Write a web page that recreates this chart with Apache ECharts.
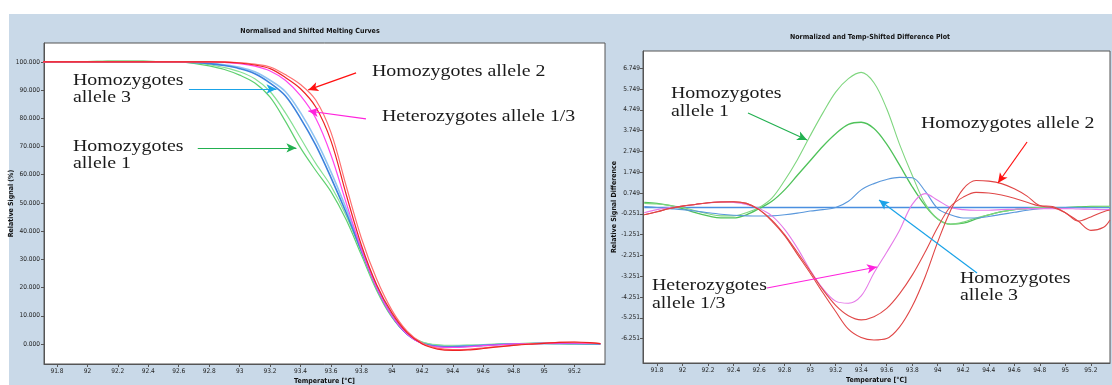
<!DOCTYPE html>
<html><head><meta charset="utf-8">
<script src="https://cdn.jsdelivr.net/npm/echarts@6/dist/echarts.min.js"></script>
<style>html,body{margin:0;padding:0;background:#fff;}#c{width:1112px;height:385px;}</style>
</head><body><div id="c"></div>
<script>
// ---- Left chart: Normalised and Shifted Melting Curves ----
const tempMelt = [91.7,91.8,91.9,92.0,92.1,92.2,92.3,92.4,92.5,92.6,92.7,92.8,92.9,93.0,93.1,93.2,93.3,93.4,93.5,93.6,93.7,93.8,93.9,94.0,94.1,94.2,94.3,94.4,94.5,94.6,94.7,94.8,94.9,95.0,95.1,95.2,95.3,95.37];
const meltRedA = [100,100,100,100,100,100,100,100,100,100,100,100,99.9,99.6,98.9,97.6,94.5,90.5,84,72,53,35,21,11,4,0,-1.8,-2.3,-2.1,-1.6,-1.0,-0.5,-0.1,0.2,0.6,0.7,0.5,0.1];
const meltRedB = [100,100,100,100,100,100,100,100,100,100,100,100,100,99.7,99.2,98.2,95.5,92,86.5,75,56,37.5,23,12,4.5,0.3,-1.5,-2.0,-1.9,-1.4,-0.9,-0.4,0,0.3,0.6,0.6,0.4,0.1];
const meltMagenta = [100,100,100,100,100,100,100,100,100,100,100,100,99.8,99.4,98.5,96.8,93.5,88,80,67,50,33.5,20,10,3.5,0,-1,-1.2,-1.0,-0.6,-0.3,0,0.1,0.2,0.3,0.3,0.2,0.1];
const meltBlue = [100,100,100,100,100,100,100,100,100,100,99.8,99.4,98.7,97.6,95.8,92.5,88,80,70.5,59,46.5,33,20,10,3.5,0.3,-0.8,-1.0,-0.8,-0.5,-0.2,0,0.1,0.2,0.2,0.2,0.1,0];
const meltBlueLight = [100,100,100,100,100,100,100,100,100,100,99.9,99.6,99.0,98.1,96.5,93.5,89.5,82,72.5,61,48,34,20.5,10.2,3.6,0.3,-0.7,-0.9,-0.7,-0.4,-0.2,0,0.1,0.2,0.2,0.1,0.1,0];
const meltGreenA = [100,100,100.1,100.1,100.2,100.3,100.3,100.2,100.1,100,99.5,98.6,97.3,95.3,92.5,87.5,79,69.5,61.5,54,44,31.5,19,9.5,3.5,0.6,-0.4,-0.6,-0.5,-0.3,-0.1,0.1,0.2,0.2,0.1,-0.1,-0.1,0];
const meltGreenB = [100,100,100.1,100.1,100.2,100.3,100.3,100.2,100.1,100,99.7,99.0,98.0,96.5,94,89.5,82,73,64,56,45.5,32.5,19.5,9.8,3.6,0.7,-0.3,-0.5,-0.4,-0.2,0,0.1,0.2,0.2,0.1,0,-0.1,0];
const meltXTicks = [91.8,92,92.2,92.4,92.6,92.8,93,93.2,93.4,93.6,93.8,94,94.2,94.4,94.6,94.8,95,95.2];
const meltYTicks = [0,10,20,30,40,50,60,70,80,90,100];

// ---- Right chart: Normalized and Temp-Shifted Difference Plot ----
const tempDiff = [91.7,91.8,91.9,92.0,92.1,92.2,92.3,92.4,92.5,92.6,92.7,92.8,92.9,93.0,93.1,93.2,93.3,93.4,93.5,93.6,93.7,93.8,93.9,94.0,94.1,94.2,94.3,94.4,94.5,94.6,94.7,94.8,94.9,95.0,95.1,95.2,95.3,95.35];
const diffGreenA = [0.25,0.22,0.15,0.05,-0.1,-0.25,-0.35,-0.35,-0.2,0.05,0.5,1.35,2.35,3.5,4.6,5.6,6.25,6.55,6.05,4.8,3.1,1.6,0.25,-0.5,-0.75,-0.65,-0.45,-0.3,-0.15,-0.05,0,0.05,0.05,0.05,0.05,0.08,0.1,0.1];
const diffGreenB = [0.3,0.25,0.15,0,-0.2,-0.35,-0.45,-0.45,-0.3,0,0.35,0.9,1.6,2.3,3.0,3.6,4.05,4.15,3.85,3.1,2.1,1.05,0.15,-0.5,-0.75,-0.7,-0.5,-0.3,-0.15,-0.05,0,0.05,0.05,0.05,0.08,0.1,0.1,0.1];
const diffBlue = [0.1,0.05,0,-0.05,-0.12,-0.2,-0.27,-0.32,-0.35,-0.36,-0.35,-0.3,-0.22,-0.12,-0.05,0.05,0.35,0.9,1.2,1.4,1.5,1.48,0.85,0.0,-0.3,-0.45,-0.45,-0.38,-0.28,-0.18,-0.08,0,0.03,0.05,0.05,0.05,0.05,0.05];
const diffRef = [0.05,0.05,0.05,0.05,0.05,0.05,0.05,0.05,0.05,0.05,0.05,0.05,0.05,0.05,0.05,0.05,0.05,0.05,0.05,0.05,0.05,0.05,0.05,0.05,0.05,0.05,0.05,0.05,0.05,0.05,0.05,0.05,0.05,0.05,0.05,0.05,0.05,0.05];
const diffMagenta = [-0.2,-0.05,0.05,0.12,0.2,0.27,0.32,0.3,0.2,0,-0.35,-1.0,-1.9,-2.95,-3.85,-4.45,-4.55,-4.2,-3.1,-2.1,-1.05,0.2,0.72,0.4,0.05,-0.05,-0.08,-0.08,-0.05,-0.03,0,0,0,0,-0.02,-0.03,-0.05,-0.05];
const diffRedA = [-0.3,-0.15,0,0.12,0.2,0.28,0.32,0.33,0.25,-0.05,-0.55,-1.25,-2.1,-3.0,-3.9,-4.65,-5.15,-5.35,-5.2,-4.8,-4.1,-3.2,-2.1,-0.9,0.1,0.55,0.78,0.75,0.65,0.5,0.3,0.12,0.05,-0.2,-0.6,-0.4,-0.15,-0.07];
const diffRedB = [-0.3,-0.15,0,0.12,0.2,0.28,0.32,0.33,0.25,-0.05,-0.6,-1.3,-2.2,-3.1,-4.05,-4.95,-5.8,-6.2,-6.32,-6.25,-5.7,-4.7,-3.3,-1.6,-0.1,0.95,1.35,1.32,1.2,0.95,0.6,0.15,0.1,-0.2,-0.6,-1.05,-0.9,-0.55];
const diffXTicks = [91.8,92,92.2,92.4,92.6,92.8,93,93.2,93.4,93.6,93.8,94,94.2,94.4,94.6,94.8,95,95.2];
const diffYTicks = [-6.251,-5.251,-4.251,-3.251,-2.251,-1.251,-0.251,0.749,1.749,2.749,3.749,4.749,5.749,6.749];

const zip = (xs, ys) => xs.map((x, i) => [x, ys[i]]);
const tickFont = {fontSize: 6.5, color: '#222', fontFamily: '"DejaVu Sans Condensed","Liberation Sans",sans-serif'};
const nameFont = {fontSize: 7, fontWeight: 'bold', color: '#111', fontFamily: '"DejaVu Sans Condensed","DejaVu Sans",sans-serif'};
const xFmt = v => String(+v.toFixed(1));

function lineSeries(xi, data, color, width, extra) {
  return Object.assign({
    type: 'line', xAxisIndex: xi, yAxisIndex: xi, data: data,
    showSymbol: false, smooth: 0.35,
    lineStyle: {color: color, width: width}, itemStyle: {color: color},
    silent: true, z: 3
  }, extra || {});
}
function arrow(x1, y1, x2, y2, color) {
  return [{coord: [x1, y1], symbol: 'none', lineStyle: {color: color, width: 1.2, type: 'solid'}},
          {coord: [x2, y2], symbol: 'arrow', symbolSize: [7, 10]}];
}
const serifFont = '17px "Liberation Serif","Times New Roman",serif';
function label(x, yBase, txt) {
  return {type: 'text', x: x, y: yBase - 6, scaleX: 1.17, silent: true, z: 50,
          style: {text: txt, font: serifFont, fill: '#1a1a1a', verticalAlign: 'middle', align: 'left'}};
}

const chart = echarts.init(document.getElementById('c'), null, {renderer: 'canvas'});
chart.setOption({
  animation: false,
  backgroundColor: '#ffffff',
  grid: [
    {left: 44, top: 43, width: 561, height: 321, show: true, backgroundColor: '#fff', borderColor: '#555', borderWidth: 1, containLabel: false, outerBoundsMode: 'none'},
    {left: 643, top: 51, width: 467, height: 312, show: true, backgroundColor: '#fff', borderColor: '#555', borderWidth: 1, containLabel: false, outerBoundsMode: 'none'}
  ],
  xAxis: [
    {type: 'value', gridIndex: 0, min: 91.715, max: 95.4, splitLine: {show: false},
     axisLine: {show: true, onZero: false, lineStyle: {color: '#555'}},
     axisTick: {show: true, customValues: meltXTicks, length: 3, lineStyle: {color: '#555'}},
     axisLabel: Object.assign({customValues: meltXTicks, formatter: xFmt, margin: 4}, tickFont),
     name: 'Temperature [°C]', nameLocation: 'middle', nameGap: 14, nameMoveOverlap: false, nameTextStyle: nameFont},
    {type: 'value', gridIndex: 1, min: 91.69, max: 95.35, splitLine: {show: false},
     axisLine: {show: true, onZero: false, lineStyle: {color: '#555'}},
     axisTick: {show: true, customValues: diffXTicks, length: 3, lineStyle: {color: '#555'}},
     axisLabel: Object.assign({customValues: diffXTicks, formatter: xFmt, margin: 4}, tickFont),
     name: 'Temperature [°C]', nameLocation: 'middle', nameGap: 14, nameMoveOverlap: false, nameTextStyle: nameFont}
  ],
  yAxis: [
    {type: 'value', gridIndex: 0, min: -7.1, max: 106.7, splitLine: {show: false},
     axisLine: {show: true, onZero: false, lineStyle: {color: '#555'}},
     axisTick: {show: true, customValues: meltYTicks, length: 3, lineStyle: {color: '#555'}},
     axisLabel: Object.assign({customValues: meltYTicks, formatter: v => v.toFixed(3), margin: 4}, tickFont),
     name: 'Relative Signal (%)', nameLocation: 'middle', nameGap: 29, nameRotate: 90, nameMoveOverlap: false, nameTextStyle: nameFont},
    {type: 'value', gridIndex: 1, min: -7.424, max: 7.576, splitLine: {show: false},
     axisLine: {show: true, onZero: false, lineStyle: {color: '#555'}},
     axisTick: {show: true, customValues: diffYTicks, length: 3, lineStyle: {color: '#555'}},
     axisLabel: Object.assign({customValues: diffYTicks, formatter: v => v.toFixed(3), margin: 3}, tickFont),
     name: 'Relative Signal Difference', nameLocation: 'middle', nameGap: 25, nameRotate: 90, nameMoveOverlap: false, nameTextStyle: nameFont}
  ],
  series: [
    lineSeries(0, zip(tempMelt, meltGreenA), '#5fd070', 1.2),
    lineSeries(0, zip(tempMelt, meltGreenB), '#86e094', 1.2),
    lineSeries(0, zip(tempMelt, meltBlueLight), '#8fc4f2', 1.6),
    lineSeries(0, zip(tempMelt, meltBlue), '#3d82dc', 1.6),
    lineSeries(0, zip(tempMelt, meltMagenta), '#ff44ee', 1.2),
    lineSeries(0, zip(tempMelt, meltRedB), '#ff7070', 1.2),
    lineSeries(0, zip(tempMelt, meltRedA), '#ee2222', 1.2, {
      markLine: {silent: true, animation: false, label: {show: false}, z: 20,
        data: [
          arrow(92.667, 90.4, 93.242, 90.4, '#1aa3e8'),
          arrow(92.725, 69.5, 93.373, 69.5, '#22b050'),
          arrow(93.765, 96.1, 93.451, 90.07, '#ff1010'),
          arrow(93.83, 79.8, 93.451, 82.6, '#ff22dd')
        ]}
    }),
    lineSeries(1, zip(tempDiff, diffRef), '#4a8fe0', 1.5),
    lineSeries(1, zip(tempDiff, diffGreenB), '#4fc25a', 1.3),
    lineSeries(1, zip(tempDiff, diffGreenA), '#7fd67f', 1.1),
    lineSeries(1, zip(tempDiff, diffBlue), '#5a98dc', 1.1),
    lineSeries(1, zip(tempDiff, diffMagenta), '#e57ae8', 1.1),
    lineSeries(1, zip(tempDiff, diffRedA), '#e04848', 1.1),
    lineSeries(1, zip(tempDiff, diffRedB), '#e04545', 1.1, {
      markLine: {silent: true, animation: false, label: {show: false}, z: 20,
        data: [
          arrow(92.513, 4.595, 92.976, 3.297, '#22b050'),
          arrow(94.70, 3.201, 94.472, 1.23, '#ff1010'),
          arrow(92.662, -3.818, 93.524, -2.809, '#ff22dd'),
          arrow(94.308, -3.097, 93.54, 0.413, '#1aa3e8')
        ]}
    })
  ],
  graphic: [
    {type: 'rect', shape: {x: 9, y: 14, width: 1103, height: 371}, style: {fill: '#c9d9e8'}, z: -100, silent: true},
    {type: 'text', x: 310, y: 31, silent: true, style: {text: 'Normalised and Shifted Melting Curves', align: 'center', verticalAlign: 'middle', font: 'bold 7px "DejaVu Sans Condensed","DejaVu Sans",sans-serif', fill: '#111'}},
    {type: 'text', x: 870, y: 37, silent: true, style: {text: 'Normalized and Temp-Shifted Difference Plot', align: 'center', verticalAlign: 'middle', font: 'bold 7px "DejaVu Sans Condensed","DejaVu Sans",sans-serif', fill: '#111'}},
    label(73, 87, 'Homozygotes'),
    label(73, 104, 'allele 3'),
    label(73, 153, 'Homozygotes'),
    label(73, 170, 'allele 1'),
    label(372, 78, 'Homozygotes allele 2'),
    label(382, 123, 'Heterozygotes allele 1/3'),
    label(671, 100, 'Homozygotes'),
    label(671, 118, 'allele 1'),
    label(921, 130, 'Homozygotes allele 2'),
    label(652, 292, 'Heterozygotes'),
    label(652, 310, 'allele 1/3'),
    label(960, 285, 'Homozygotes'),
    label(960, 302, 'allele 3')
  ]
});
</script></body></html>
